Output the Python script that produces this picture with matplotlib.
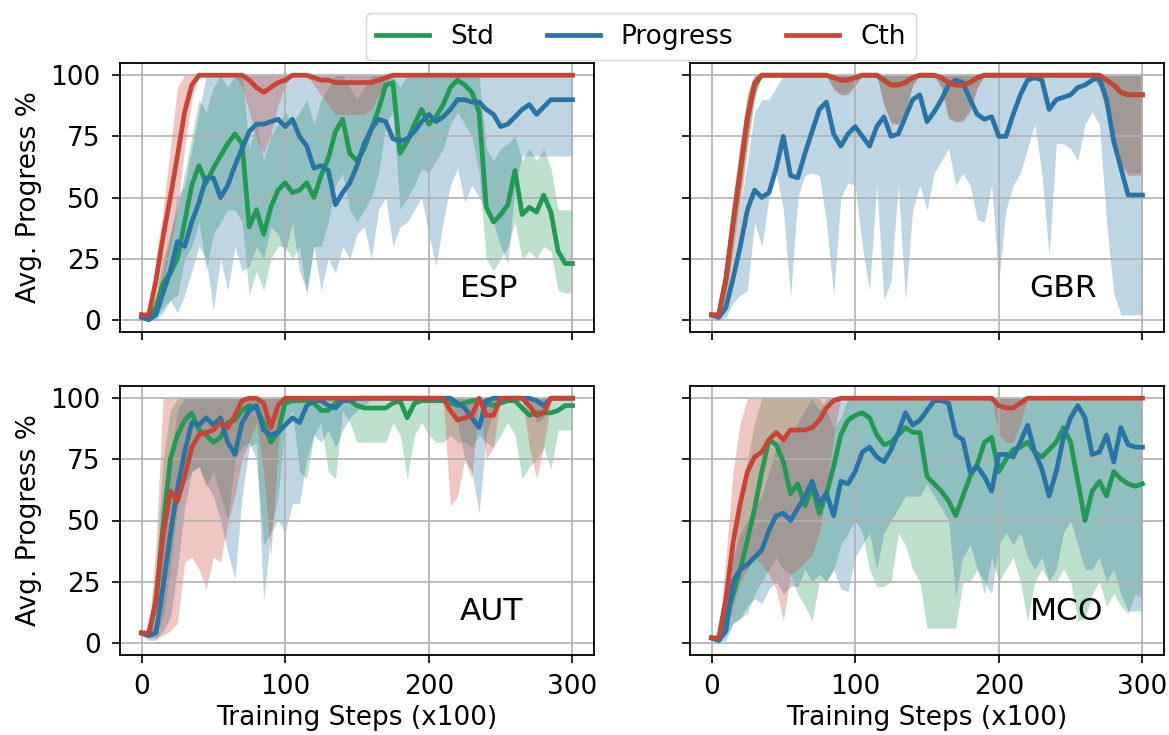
import matplotlib
matplotlib.use("Agg")
import matplotlib.pyplot as plt

steps = [0, 5, 10, 15, 20, 25, 30, 35, 40, 45,
         50, 55, 60, 65, 70, 75, 80, 85, 90, 95,
         100, 105, 110, 115, 120, 125, 130, 135, 140, 145,
         150, 155, 160, 165, 170, 175, 180, 185, 190, 195,
         200, 205, 210, 215, 220, 225, 230, 235, 240, 245,
         250, 255, 260, 265, 270, 275, 280, 285, 290, 295,
         300]

methods = ["Std", "Progress", "Cth"]
tracks = ["ESP", "GBR", "AUT", "MCO"]

# ---------------- ESP ----------------
esp_std = [2, 1, 5, 15, 19, 25, 40, 55, 63, 56,
           62, 67, 72, 76, 72, 38, 45, 35, 46, 53,
           56, 52, 53, 56, 50, 59, 66, 77, 82, 68,
           65, 70, 78, 86, 96, 97, 68, 73, 80, 86,
           80, 83, 88, 95, 98, 96, 93, 85, 46, 40,
           43, 47, 61, 43, 46, 44, 51, 44, 28, 23,
           23]
esp_std_lo = [2, 0, 1, 5, 8, 10, 25, 30, 40, 20,
              35, 40, 45, 45, 40, 10, 20, 12, 25, 30,
              30, 25, 30, 10, 30, 30, 40, 55, 60, 45,
              40, 45, 50, 60, 80, 85, 45, 50, 55, 62,
              60, 65, 70, 80, 85, 80, 75, 60, 25, 20,
              25, 30, 40, 25, 28, 25, 30, 28, 12, 11,
              11]
esp_std_hi = [2, 3, 10, 25, 35, 45, 60, 75, 90, 85,
              95, 100, 95, 100, 100, 70, 80, 65, 75, 80,
              85, 80, 85, 90, 80, 90, 95, 100, 100, 95,
              90, 95, 100, 100, 100, 100, 95, 100, 100, 100,
              100, 100, 100, 100, 100, 100, 100, 100, 70, 65,
              70, 72, 75, 65, 70, 65, 70, 62, 45, 45,
              45]
esp_prog = [1, 0, 2, 11, 20, 32, 30, 40, 48, 58,
            58, 50, 55, 63, 70, 77, 80, 80, 81, 82,
            79, 82, 75, 71, 62, 63, 61, 47, 52, 56,
            63, 72, 78, 82, 81, 74, 73, 74, 77, 81,
            84, 81, 83, 86, 90, 90, 89, 89, 86, 84,
            79, 80, 83, 86, 88, 84, 87, 90, 90, 90,
            90]
esp_prog_lo = [1, 0, 0, 3, 8, 3, 10, 20, 30, 25,
               4, 25, 12, 30, 20, 22, 30, 25, 38, 35,
               27, 40, 20, 12, 30, 12, 25, 19, 30, 25,
               35, 38, 25, 45, 50, 30, 38, 40, 45, 50,
               35, 22, 40, 55, 62, 48, 55, 50, 45, 40,
               30, 23, 55, 67, 67, 67, 67, 67, 67, 67,
               67]
esp_prog_hi = [2, 2, 5, 20, 35, 50, 55, 70, 85, 100,
               100, 100, 100, 100, 100, 100, 100, 100, 100, 100,
               100, 100, 100, 100, 100, 100, 100, 100, 100, 100,
               100, 100, 100, 100, 100, 100, 100, 100, 100, 100,
               100, 100, 100, 100, 100, 100, 100, 100, 100, 100,
               100, 100, 100, 100, 100, 100, 100, 100, 100, 100,
               100]
esp_cth = [2, 2, 16, 34, 50, 67, 85, 96, 100, 100,
           100, 100, 100, 100, 100, 98, 95, 93, 95, 97,
           98, 100, 100, 100, 99, 98, 98, 97, 97, 97,
           97, 97, 97, 98, 99, 100, 100, 100, 100, 100,
           100, 100, 100, 100, 100, 100, 100, 100, 100, 100,
           100, 100, 100, 100, 100, 100, 100, 100, 100, 100,
           100]
esp_cth_lo = [2, 1, 5, 15, 30, 45, 70, 90, 100, 100,
              100, 100, 100, 100, 95, 85, 74, 68, 76, 88,
              96, 100, 100, 100, 96, 92, 88, 84, 84, 84,
              84, 84, 86, 92, 97, 100, 100, 100, 100, 100,
              100, 100, 100, 100, 100, 100, 100, 100, 100, 100,
              100, 100, 100, 100, 100, 100, 100, 100, 100, 100,
              100]
esp_cth_hi = [2, 3, 25, 45, 70, 95, 100, 100, 100, 100,
              100, 100, 100, 100, 100, 100, 100, 100, 100, 100,
              100, 100, 100, 100, 100, 100, 100, 100, 100, 100,
              100, 100, 100, 100, 100, 100, 100, 100, 100, 100,
              100, 100, 100, 100, 100, 100, 100, 100, 100, 100,
              100, 100, 100, 100, 100, 100, 100, 100, 100, 100,
              100]

# ---------------- GBR ----------------
gbr_std = [2, 2, 16, 39, 60, 82, 96, 100, 100, 100,
           100, 100, 100, 100, 100, 100, 100, 99, 98, 98,
           99, 100, 100, 100, 98, 96, 96, 97, 99, 100,
           100, 100, 99, 97, 96, 96, 97, 99, 100, 100,
           100, 100, 100, 100, 100, 100, 100, 100, 100, 100,
           100, 100, 100, 100, 100, 98, 96, 93, 92, 92,
           92]
gbr_std_lo = [2, 1, 8, 28, 50, 72, 92, 100, 100, 100,
              100, 100, 100, 100, 100, 100, 100, 95, 92, 93,
              96, 100, 100, 100, 88, 81, 80, 86, 96, 100,
              100, 100, 95, 83, 81, 82, 86, 95, 100, 100,
              100, 100, 100, 100, 100, 100, 100, 100, 100, 100,
              100, 100, 100, 100, 95, 86, 76, 64, 60, 60,
              60]
gbr_std_hi = [2, 3, 25, 50, 72, 92, 100, 100, 100, 100,
              100, 100, 100, 100, 100, 100, 100, 100, 100, 100,
              100, 100, 100, 100, 100, 100, 100, 100, 100, 100,
              100, 100, 100, 100, 100, 100, 100, 100, 100, 100,
              100, 100, 100, 100, 100, 100, 100, 100, 100, 100,
              100, 100, 100, 100, 100, 100, 100, 100, 100, 100,
              100]
gbr_prog = [2, 1, 5, 17, 30, 45, 53, 50, 52, 62,
            75, 59, 58, 68, 77, 86, 89, 76, 71, 76,
            79, 75, 71, 79, 83, 75, 76, 83, 90, 92,
            81, 85, 90, 96, 98, 97, 90, 84, 82, 83,
            75, 75, 84, 92, 98, 99, 98, 86, 90, 91,
            92, 95, 96, 98, 99, 90, 73, 62, 51, 51,
            51]
gbr_prog_lo = [1, 0, 1, 7, 10, 12, 40, 30, 50, 60,
               45, 9, 50, 59, 60, 59, 40, 10, 50, 56,
               55, 30, 12, 55, 8, 16, 55, 8, 45, 55,
               45, 60, 65, 70, 55, 60, 55, 41, 40, 55,
               16, 45, 55, 60, 70, 80, 60, 26, 72, 72,
               70, 65, 80, 85, 80, 40, 11, 2, 2, 2,
               2]
gbr_prog_hi = [2, 2, 8, 25, 45, 65, 85, 90, 90, 95,
               100, 100, 100, 100, 100, 100, 100, 100, 100, 100,
               100, 100, 100, 100, 100, 100, 100, 100, 100, 100,
               100, 100, 100, 100, 100, 100, 100, 100, 100, 100,
               100, 100, 100, 100, 100, 100, 100, 100, 100, 100,
               100, 100, 100, 100, 100, 100, 100, 100, 100, 100,
               100]
gbr_cth = [2, 2, 17, 40, 61, 83, 97, 100, 100, 100,
           100, 100, 100, 100, 100, 100, 100, 99, 98, 98,
           99, 100, 100, 100, 98, 96, 96, 97, 99, 100,
           100, 100, 99, 97, 96, 96, 97, 99, 100, 100,
           100, 100, 100, 100, 100, 100, 100, 100, 100, 100,
           100, 100, 100, 100, 100, 98, 96, 93, 92, 92,
           92]
gbr_cth_lo = [2, 1, 8, 25, 45, 70, 90, 100, 100, 100,
              100, 100, 100, 100, 100, 100, 100, 94, 92, 92,
              96, 100, 100, 100, 88, 80, 80, 85, 96, 100,
              100, 100, 95, 82, 81, 81, 85, 95, 100, 100,
              100, 100, 100, 100, 100, 100, 100, 100, 100, 100,
              100, 100, 100, 100, 95, 85, 75, 63, 59, 59,
              59]
gbr_cth_hi = [2, 3, 25, 50, 72, 92, 100, 100, 100, 100,
              100, 100, 100, 100, 100, 100, 100, 100, 100, 100,
              100, 100, 100, 100, 100, 100, 100, 100, 100, 100,
              100, 100, 100, 100, 100, 100, 100, 100, 100, 100,
              100, 100, 100, 100, 100, 100, 100, 100, 100, 100,
              100, 100, 100, 100, 100, 100, 100, 100, 100, 100,
              100]

# ---------------- AUT ----------------
aut_std = [4, 3, 17, 48, 75, 85, 91, 94, 87, 85,
           82, 84, 90, 91, 95, 97, 96, 90, 82, 86,
           98, 99, 99, 99, 98, 95, 95, 98, 99, 99,
           97, 96, 96, 96, 96, 98, 99, 92, 98, 99,
           99, 99, 99, 98, 97, 98, 99, 99, 98, 97,
           98, 99, 99, 96, 93, 94, 94, 94, 95, 97,
           97]
aut_std_lo = [4, 2, 3, 10, 30, 55, 65, 70, 72, 64,
              70, 60, 50, 75, 80, 82, 75, 40, 45, 60,
              90, 95, 70, 67, 85, 90, 70, 67, 95, 90,
              82, 82, 82, 82, 82, 90, 85, 67, 85, 90,
              85, 82, 82, 85, 82, 82, 80, 85, 82, 80,
              85, 90, 85, 67, 72, 75, 80, 71, 87, 87,
              87]
aut_std_hi = [4, 4, 30, 75, 95, 100, 100, 100, 100, 100,
              100, 100, 100, 100, 100, 100, 100, 100, 100, 100,
              100, 100, 100, 100, 100, 100, 100, 100, 100, 100,
              100, 100, 100, 100, 100, 100, 100, 100, 100, 100,
              100, 100, 100, 100, 100, 100, 100, 100, 100, 100,
              100, 100, 100, 100, 100, 100, 100, 100, 100, 100,
              100]
aut_prog = [4, 3, 4, 23, 44, 63, 78, 90, 89, 92,
            89, 92, 82, 77, 90, 95, 97, 87, 85, 86,
            89, 92, 90, 97, 99, 99, 97, 96, 99, 99,
            100, 100, 100, 100, 100, 100, 100, 100, 100, 100,
            100, 100, 100, 100, 98, 96, 92, 88, 99, 100,
            100, 100, 100, 100, 100, 99, 97, 100, 100, 100,
            100]
aut_prog_lo = [3, 1, 1, 5, 10, 30, 55, 70, 72, 65,
               60, 50, 37, 26, 60, 80, 82, 17, 45, 50,
               45, 57, 57, 75, 85, 82, 87, 80, 87, 92,
               95, 97, 100, 100, 100, 100, 100, 100, 100, 100,
               100, 100, 100, 100, 90, 75, 70, 53, 85, 95,
               100, 100, 100, 100, 100, 90, 92, 100, 100, 100,
               100]
aut_prog_hi = [4, 4, 8, 45, 75, 95, 100, 100, 100, 100,
               100, 100, 100, 100, 100, 100, 100, 100, 100, 100,
               100, 100, 100, 100, 100, 100, 100, 100, 100, 100,
               100, 100, 100, 100, 100, 100, 100, 100, 100, 100,
               100, 100, 100, 100, 100, 100, 100, 100, 100, 100,
               100, 100, 100, 100, 100, 100, 100, 100, 100, 100,
               100]
aut_cth = [4, 4, 17, 44, 62, 58, 68, 80, 85, 86,
           87, 90, 88, 93, 99, 100, 100, 98, 88, 97,
           100, 100, 100, 100, 100, 100, 100, 100, 100, 100,
           100, 100, 100, 100, 100, 100, 100, 100, 100, 100,
           100, 100, 100, 95, 91, 92, 93, 100, 93, 93,
           100, 100, 100, 100, 97, 93, 94, 100, 100, 100,
           100]
aut_cth_lo = [3, 2, 2, 3, 5, 8, 33, 35, 30, 22,
              35, 33, 49, 60, 75, 82, 90, 70, 35, 80,
              100, 100, 100, 100, 100, 100, 100, 100, 100, 100,
              100, 100, 100, 100, 100, 100, 100, 100, 100, 100,
              100, 100, 100, 56, 60, 75, 67, 100, 75, 80,
              100, 100, 100, 100, 80, 67, 80, 100, 100, 100,
              100]
aut_cth_hi = [4, 5, 40, 100, 100, 100, 100, 100, 100, 100,
              100, 100, 100, 100, 100, 100, 100, 100, 100, 100,
              100, 100, 100, 100, 100, 100, 100, 100, 100, 100,
              100, 100, 100, 100, 100, 100, 100, 100, 100, 100,
              100, 100, 100, 100, 100, 100, 100, 100, 100, 100,
              100, 100, 100, 100, 100, 100, 100, 100, 100, 100,
              100]

# ---------------- MCO ----------------
mco_std = [2, 1, 10, 20, 30, 42, 55, 70, 83, 81,
           74, 61, 65, 56, 64, 53, 61, 72, 85, 91,
           93, 94, 92, 85, 81, 82, 85, 88, 86, 86,
           68, 65, 62, 58, 52, 60, 68, 73, 82, 84,
           70, 75, 79, 80, 82, 78, 76, 79, 82, 88,
           82, 66, 50, 62, 66, 60, 70, 67, 65, 64,
           65]
mco_std_lo = [2, 0, 3, 8, 10, 12, 20, 25, 30, 35,
              30, 28, 20, 15, 9, 25, 25, 30, 40, 45,
              50, 45, 30, 23, 23, 25, 45, 40, 30, 25,
              6, 6, 6, 6, 6, 25, 25, 30, 20, 35,
              25, 30, 35, 25, 9, 25, 30, 25, 25, 30,
              25, 9, 10, 20, 25, 15, 20, 15, 12, 20,
              18]
mco_std_hi = [2, 3, 20, 35, 55, 75, 90, 100, 100, 100,
              100, 100, 100, 100, 100, 100, 95, 88, 92, 100,
              100, 100, 100, 100, 100, 100, 100, 100, 100, 100,
              100, 100, 100, 100, 100, 100, 100, 100, 100, 100,
              100, 100, 100, 100, 100, 100, 100, 100, 100, 100,
              100, 100, 100, 100, 100, 100, 100, 100, 100, 100,
              100]
mco_prog = [2, 1, 5, 25, 30, 32, 35, 38, 46, 52,
            53, 50, 55, 60, 66, 57, 61, 52, 66, 65,
            70, 78, 80, 76, 74, 79, 86, 94, 89, 91,
            95, 99, 99, 98, 85, 83, 70, 72, 68, 62,
            77, 77, 76, 82, 89, 78, 71, 60, 70, 84,
            92, 97, 92, 77, 78, 85, 74, 88, 81, 80,
            80]
mco_prog_lo = [2, 0, 1, 8, 10, 15, 18, 16, 22, 25,
               20, 23, 23, 30, 25, 28, 25, 30, 22, 21,
               35, 40, 45, 30, 45, 50, 55, 60, 60, 60,
               65, 60, 55, 50, 19, 35, 40, 30, 25, 20,
               40, 45, 40, 45, 35, 30, 35, 25, 30, 45,
               50, 40, 30, 30, 35, 25, 30, 20, 13, 13,
               13]
mco_prog_hi = [2, 3, 10, 35, 45, 50, 55, 60, 70, 80,
               85, 85, 90, 95, 100, 95, 100, 100, 100, 100,
               100, 100, 100, 100, 100, 100, 100, 100, 100, 100,
               100, 100, 100, 100, 100, 100, 100, 100, 100, 100,
               100, 100, 100, 100, 100, 100, 100, 100, 100, 100,
               100, 100, 100, 100, 100, 100, 100, 100, 100, 100,
               100]
mco_cth = [2, 2, 18, 41, 57, 70, 76, 78, 83, 86,
           83, 87, 87, 87, 88, 91, 96, 99, 100, 100,
           100, 100, 100, 100, 100, 100, 100, 100, 100, 100,
           100, 100, 100, 100, 100, 100, 100, 100, 100, 100,
           97, 96, 96, 98, 100, 100, 100, 100, 100, 100,
           100, 100, 100, 100, 100, 100, 100, 100, 100, 100,
           100]
mco_cth_lo = [2, 1, 5, 15, 25, 30, 35, 32, 28, 22,
              9, 28, 30, 33, 36, 45, 60, 85, 100, 100,
              100, 100, 100, 100, 100, 100, 100, 100, 100, 100,
              100, 100, 100, 100, 100, 100, 100, 100, 100, 100,
              85, 82, 82, 90, 100, 100, 100, 100, 100, 100,
              100, 100, 100, 100, 100, 100, 100, 100, 100, 100,
              100]
mco_cth_hi = [2, 3, 35, 70, 90, 100, 100, 100, 100, 100,
              100, 100, 100, 100, 100, 100, 100, 100, 100, 100,
              100, 100, 100, 100, 100, 100, 100, 100, 100, 100,
              100, 100, 100, 100, 100, 100, 100, 100, 100, 100,
              100, 100, 100, 100, 100, 100, 100, 100, 100, 100,
              100, 100, 100, 100, 100, 100, 100, 100, 100, 100,
              100]

panels = {
    "ESP": [(esp_std, esp_std_lo, esp_std_hi), (esp_prog, esp_prog_lo, esp_prog_hi), (esp_cth, esp_cth_lo, esp_cth_hi)],
    "GBR": [(gbr_std, gbr_std_lo, gbr_std_hi), (gbr_prog, gbr_prog_lo, gbr_prog_hi), (gbr_cth, gbr_cth_lo, gbr_cth_hi)],
    "AUT": [(aut_std, aut_std_lo, aut_std_hi), (aut_prog, aut_prog_lo, aut_prog_hi), (aut_cth, aut_cth_lo, aut_cth_hi)],
    "MCO": [(mco_std, mco_std_lo, mco_std_hi), (mco_prog, mco_prog_lo, mco_prog_hi), (mco_cth, mco_cth_lo, mco_cth_hi)],
}

colors = ["#229954", "#2874A6", "#CB4335"]

plt.rcParams["font.family"] = ["DejaVu Sans"]
W, H = 1169, 735
fig = plt.figure(figsize=(W / 100, H / 100), dpi=100)

ax_w = 474 / W
ax_h = 269 / H
lefts = [120 / W, 690 / W]
bottoms = [1 - 332 / H, 1 - 655 / H]

FS = 19
handles = []
for i, name in enumerate(tracks):
    r, c = divmod(i, 2)
    ax = fig.add_axes([lefts[c], bottoms[r], ax_w, ax_h])
    for k, (mean, lo, hi) in enumerate(panels[name]):
        ax.fill_between(steps, lo, hi, color=colors[k], alpha=0.3, linewidth=0)
    for k, (mean, lo, hi) in enumerate(panels[name]):
        ln, = ax.plot(steps, mean, color=colors[k], linewidth=3.4, label=methods[k])
        if i == 0:
            handles.append(ln)
    ax.set_xlim(-15, 315)
    ax.set_ylim(-5, 105)
    ax.set_xticks([0, 100, 200, 300])
    ax.set_yticks([0, 25, 50, 75, 100])
    ax.grid(True, color="#b0b0b0", linewidth=1.2)
    ax.tick_params(labelsize=FS, length=6, width=1.2, pad=8)
    for s in ax.spines.values():
        s.set_linewidth(1.3)
    if c == 0:
        ax.set_ylabel("Avg. Progress %", fontsize=FS, labelpad=6)
    else:
        ax.set_yticklabels([])
    if r == 1:
        ax.set_xlabel("Training Steps (x100)", fontsize=FS, labelpad=3)
    else:
        ax.set_xticklabels([])
    ax.text(0.716, 0.13, name, transform=ax.transAxes, fontsize=22.5,
            ha="left", va="baseline")

fig.legend(handles, methods, loc="upper center", bbox_to_anchor=(641 / W, 1.0),
           ncol=3, fontsize=FS, frameon=True, handlelength=2.0, columnspacing=2.0)

fig.savefig("out.png", dpi=100)
